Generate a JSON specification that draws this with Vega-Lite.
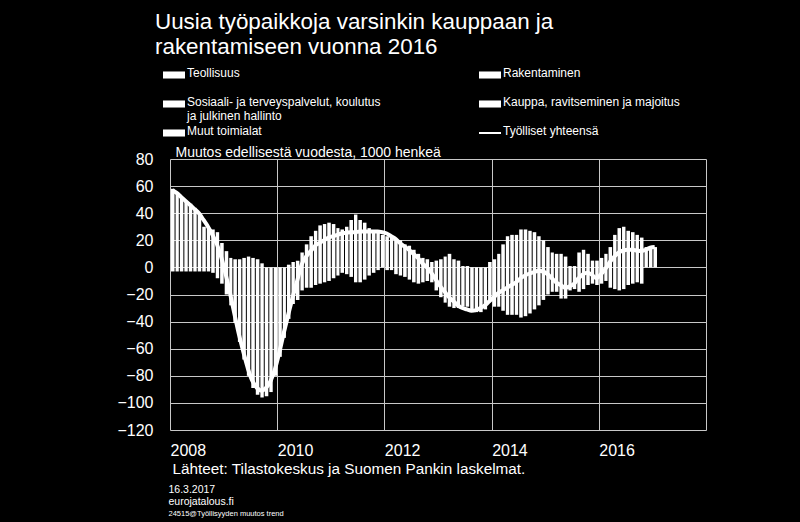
{
  "$schema": "https://vega.github.io/schema/vega-lite/v6.json",
  "width": 536,
  "height": 271,
  "autosize": {"type": "none"},
  "padding": {"left": 170, "top": 159, "right": 94, "bottom": 92},
  "background": "black",
  "config": {
    "view": {"stroke": null},
    "font": "Liberation Sans"
  },
  "title": {
    "text": ["Uusia työpaikkoja varsinkin kauppaan ja", "rakentamiseen vuonna 2016"],
    "anchor": "start",
    "frame": "group",
    "dx": -15,
    "fontSize": 22.4,
    "fontWeight": "normal",
    "font": "Liberation Sans",
    "color": "white",
    "lineHeight": 25,
    "offset": 6
  },
  "data": {
    "values": [
      {"d": "2008-01", "hi": 58, "lo": -3, "tot": 57},
      {"d": "2008-02", "hi": 55, "lo": -3, "tot": 55},
      {"d": "2008-03", "hi": 52, "lo": -3, "tot": 52},
      {"d": "2008-04", "hi": 49, "lo": -3, "tot": 49},
      {"d": "2008-05", "hi": 47, "lo": -3, "tot": 46},
      {"d": "2008-06", "hi": 44, "lo": -3, "tot": 43},
      {"d": "2008-07", "hi": 40, "lo": -3, "tot": 40},
      {"d": "2008-08", "hi": 30, "lo": -3, "tot": 35},
      {"d": "2008-09", "hi": 29, "lo": -3, "tot": 30},
      {"d": "2008-10", "hi": 28, "lo": -4, "tot": 24},
      {"d": "2008-11", "hi": 26, "lo": -8, "tot": 17},
      {"d": "2008-12", "hi": 18, "lo": -12, "tot": 7},
      {"d": "2009-01", "hi": 12, "lo": -20, "tot": -6},
      {"d": "2009-02", "hi": 7, "lo": -28, "tot": -20},
      {"d": "2009-03", "hi": 6, "lo": -41, "tot": -35},
      {"d": "2009-04", "hi": 6, "lo": -55, "tot": -50},
      {"d": "2009-05", "hi": 7, "lo": -68, "tot": -63},
      {"d": "2009-06", "hi": 8, "lo": -80, "tot": -75},
      {"d": "2009-07", "hi": 7, "lo": -89, "tot": -84},
      {"d": "2009-08", "hi": 6, "lo": -94, "tot": -89},
      {"d": "2009-09", "hi": 3, "lo": -96, "tot": -91},
      {"d": "2009-10", "hi": 0, "lo": -95, "tot": -89},
      {"d": "2009-11", "hi": 0, "lo": -92, "tot": -84},
      {"d": "2009-12", "hi": 0, "lo": -80, "tot": -75},
      {"d": "2010-01", "hi": 0, "lo": -66, "tot": -62},
      {"d": "2010-02", "hi": 0, "lo": -52, "tot": -48},
      {"d": "2010-03", "hi": 2, "lo": -38, "tot": -35},
      {"d": "2010-04", "hi": 4, "lo": -27, "tot": -22},
      {"d": "2010-05", "hi": 5, "lo": -24, "tot": -10},
      {"d": "2010-06", "hi": 11, "lo": -17, "tot": 2},
      {"d": "2010-07", "hi": 17, "lo": -15, "tot": 8},
      {"d": "2010-08", "hi": 23, "lo": -15, "tot": 12},
      {"d": "2010-09", "hi": 27, "lo": -13, "tot": 16},
      {"d": "2010-10", "hi": 31, "lo": -12, "tot": 18},
      {"d": "2010-11", "hi": 32, "lo": -11, "tot": 20},
      {"d": "2010-12", "hi": 33, "lo": -10, "tot": 22},
      {"d": "2011-01", "hi": 32, "lo": -8, "tot": 23},
      {"d": "2011-02", "hi": 29, "lo": -6, "tot": 24},
      {"d": "2011-03", "hi": 28, "lo": -4, "tot": 25},
      {"d": "2011-04", "hi": 30, "lo": -5, "tot": 25.5},
      {"d": "2011-05", "hi": 35, "lo": -7, "tot": 26},
      {"d": "2011-06", "hi": 39, "lo": -11, "tot": 26},
      {"d": "2011-07", "hi": 35, "lo": -11, "tot": 26.5},
      {"d": "2011-08", "hi": 33, "lo": -9, "tot": 26.5},
      {"d": "2011-09", "hi": 29, "lo": -6, "tot": 26.5},
      {"d": "2011-10", "hi": 26, "lo": -4, "tot": 26.5},
      {"d": "2011-11", "hi": 26, "lo": -2, "tot": 26.5},
      {"d": "2011-12", "hi": 24, "lo": 0, "tot": 26},
      {"d": "2012-01", "hi": 23, "lo": -2, "tot": 25},
      {"d": "2012-02", "hi": 22, "lo": -2, "tot": 23},
      {"d": "2012-03", "hi": 21, "lo": -5, "tot": 21},
      {"d": "2012-04", "hi": 20, "lo": -6, "tot": 18},
      {"d": "2012-05", "hi": 17, "lo": -7, "tot": 15.5},
      {"d": "2012-06", "hi": 16, "lo": -9, "tot": 13},
      {"d": "2012-07", "hi": 13, "lo": -11, "tot": 10},
      {"d": "2012-08", "hi": 10, "lo": -12, "tot": 7},
      {"d": "2012-09", "hi": 7, "lo": -11, "tot": 3},
      {"d": "2012-10", "hi": 6, "lo": -10, "tot": 0},
      {"d": "2012-11", "hi": 4, "lo": -11, "tot": -4},
      {"d": "2012-12", "hi": 5, "lo": -17, "tot": -9},
      {"d": "2013-01", "hi": 6, "lo": -22, "tot": -14},
      {"d": "2013-02", "hi": 8, "lo": -26, "tot": -18},
      {"d": "2013-03", "hi": 10, "lo": -29, "tot": -22},
      {"d": "2013-04", "hi": 6, "lo": -30, "tot": -25},
      {"d": "2013-05", "hi": 5, "lo": -30, "tot": -28},
      {"d": "2013-06", "hi": 1, "lo": -29, "tot": -30},
      {"d": "2013-07", "hi": 1, "lo": -29, "tot": -31},
      {"d": "2013-08", "hi": 0, "lo": -31, "tot": -32},
      {"d": "2013-09", "hi": 0, "lo": -33, "tot": -31.5},
      {"d": "2013-10", "hi": 0, "lo": -33, "tot": -30},
      {"d": "2013-11", "hi": 0, "lo": -31, "tot": -28},
      {"d": "2013-12", "hi": 4, "lo": -24, "tot": -25},
      {"d": "2014-01", "hi": 6, "lo": -29, "tot": -22},
      {"d": "2014-02", "hi": 10, "lo": -29, "tot": -19},
      {"d": "2014-03", "hi": 17, "lo": -32, "tot": -17},
      {"d": "2014-04", "hi": 23, "lo": -35, "tot": -15},
      {"d": "2014-05", "hi": 24, "lo": -35, "tot": -13},
      {"d": "2014-06", "hi": 24, "lo": -35, "tot": -11},
      {"d": "2014-07", "hi": 28, "lo": -37, "tot": -8},
      {"d": "2014-08", "hi": 28, "lo": -36, "tot": -6},
      {"d": "2014-09", "hi": 27, "lo": -34, "tot": -4.5},
      {"d": "2014-10", "hi": 26, "lo": -31, "tot": -3.5},
      {"d": "2014-11", "hi": 23, "lo": -28, "tot": -2.5},
      {"d": "2014-12", "hi": 20, "lo": -24, "tot": -3},
      {"d": "2015-01", "hi": 15, "lo": -20, "tot": -5},
      {"d": "2015-02", "hi": 11, "lo": -18, "tot": -8},
      {"d": "2015-03", "hi": 10, "lo": -18, "tot": -11},
      {"d": "2015-04", "hi": 10, "lo": -23, "tot": -13},
      {"d": "2015-05", "hi": 8, "lo": -23, "tot": -15},
      {"d": "2015-06", "hi": 1, "lo": -17, "tot": -14},
      {"d": "2015-07", "hi": 1, "lo": -16, "tot": -12},
      {"d": "2015-08", "hi": 11, "lo": -18, "tot": -8},
      {"d": "2015-09", "hi": 13, "lo": -16, "tot": -5},
      {"d": "2015-10", "hi": 10, "lo": -13, "tot": -4},
      {"d": "2015-11", "hi": 5, "lo": -12, "tot": -5.5},
      {"d": "2015-12", "hi": 5, "lo": -13, "tot": -8},
      {"d": "2016-01", "hi": 7, "lo": -12, "tot": -5},
      {"d": "2016-02", "hi": 10, "lo": -10, "tot": -1},
      {"d": "2016-03", "hi": 15, "lo": -15, "tot": 4},
      {"d": "2016-04", "hi": 24, "lo": -16, "tot": 8},
      {"d": "2016-05", "hi": 29, "lo": -17, "tot": 11},
      {"d": "2016-06", "hi": 30, "lo": -16, "tot": 12.5},
      {"d": "2016-07", "hi": 27, "lo": -13, "tot": 13},
      {"d": "2016-08", "hi": 26, "lo": -12, "tot": 13},
      {"d": "2016-09", "hi": 24, "lo": -11, "tot": 12.5},
      {"d": "2016-10", "hi": 22, "lo": -12, "tot": 12},
      {"d": "2016-11", "hi": 15, "lo": 0, "tot": 13},
      {"d": "2016-12", "hi": 15, "lo": 0, "tot": 14.5},
      {"d": "2017-01", "hi": 15, "lo": 0, "tot": 15}
    ]
  },
  "resolve": {"axis": {"x": "independent", "y": "independent"}},
  "layer": [
    {
      "mark": {"type": "bar", "color": "white", "timeUnitBandSize": 0.7},
      "encoding": {
        "x": {
          "field": "d", "timeUnit": "yearmonth", "type": "temporal",
          "scale": {"domain": [{"year": 2008, "month": 1, "date": 1}, {"year": 2018, "month": 1, "date": 1}]},
          "axis": {
            "orient": "bottom",
            "values": [{"year": 2008}, {"year": 2010}, {"year": 2012}, {"year": 2014}, {"year": 2016}, {"year": 2018}],
            "labelExpr": "year(datum.value) >= 2018 ? '' : timeFormat(datum.value, '%Y')",
            "labelAlign": "left", "labelFontSize": 16, "labelColor": "white", "labelPadding": 12,
            "labelFont": "Liberation Sans", "labelFlush": false, "labelOverlap": false,
            "ticks": false, "domain": false, "grid": true, "gridColor": "#c8c8c8", "gridWidth": 1,
            "title": "Lähteet: Tilastokeskus ja Suomen Pankin laskelmat.",
            "titleFontSize": 15.3, "titleFontWeight": "normal", "titleColor": "white", "titleFont": "Liberation Sans",
            "titleAnchor": "start", "titleAlign": "left", "titleBaseline": "alphabetic", "titleX": 2, "titleY": 43
          }
        },
        "y": {
          "field": "lo", "type": "quantitative",
          "scale": {"domain": [-120, 80], "nice": false},
          "axis": {
            "orient": "left",
            "values": [-120, -100, -80, -60, -40, -20, 0, 20, 40, 60, 80],
            "labelFontSize": 16, "labelColor": "white", "labelPadding": 17, "labelFont": "Liberation Sans",
            "ticks": false, "domain": false, "grid": true, "gridColor": "#c8c8c8", "gridWidth": 1,
            "title": "Muutos edellisestä vuodesta, 1000 henkeä",
            "titleAngle": 0, "titleAlign": "left", "titleBaseline": "alphabetic", "titleX": 5, "titleY": -3,
            "titleFontSize": 14, "titleFontWeight": "normal", "titleColor": "white", "titleFont": "Liberation Sans"
          }
        },
        "y2": {"field": "hi"},
        "color": {
          "datum": "Teollisuus", "type": "nominal",
          "scale": {
            "domain": ["Teollisuus", "Rakentaminen", "Sosiaali- ja terveyspalvelut, koulutus ja julkinen hallinto", "Kauppa, ravitseminen ja majoitus", "Muut toimialat", "Työlliset yhteensä"],
            "range": ["white", "white", "white", "white", "white", "white"]
          },
          "legend": {
            "orient": "none", "legendX": -7, "legendY": -95,
            "direction": "horizontal",
            "columns": 2, "columnPadding": 98, "rowPadding": 0,
            "title": null,
            "symbolType": "M-1,-0.32H1V0.32H-1Z", "symbolSize": 484,
            "symbolFillColor": "white", "symbolStrokeWidth": 0,
            "labelColor": "white", "labelFontSize": 12, "labelFont": "Liberation Sans", "labelOffset": 2, "labelLimit": 0,
            "labelExpr": "datum.label == 'Sosiaali- ja terveyspalvelut, koulutus ja julkinen hallinto' ? ['Sosiaali- ja terveyspalvelut, koulutus', 'ja julkinen hallinto'] : [datum.label, '']",
            "encode": {
              "symbols": {"update": {
                "shape": {"signal": "datum.value === 'Työlliset yhteensä' ? 'M-1,-0.09H1V0.09H-1Z' : 'M-1,-0.32H1V0.32H-1Z'"},
                "fill": {"value": "white"}, "stroke": {"value": "white"}, "strokeWidth": {"value": 0}, "opacity": {"value": 1}
              }},
              "labels": {"update": {"baseline": {"value": "top"}, "dy": {"value": -7}, "lineHeight": {"value": 14}}}
            }
          }
        }
      }
    },
    {
      "mark": {"type": "line", "strokeWidth": 4, "interpolate": "monotone"},
      "encoding": {
        "x": {
          "field": "d", "timeUnit": "yearmonth", "type": "temporal", "bandPosition": 0.5,
          "axis": {
            "orient": "bottom",
            "labels": false, "ticks": false, "domain": false, "grid": false,
            "title": ["16.3.2017", "eurojatalous.fi"],
            "titleFontSize": 10.5, "titleFontWeight": "normal", "titleColor": "white", "titleFont": "Liberation Sans",
            "titleAnchor": "start", "titleAlign": "left", "titleBaseline": "alphabetic", "titleX": -2, "titleY": 62, "titleLineHeight": 12.5
          }
        },
        "y": {
          "field": "tot", "type": "quantitative",
          "axis": {
            "orient": "left",
            "labels": false, "ticks": false, "domain": false, "grid": false,
            "title": "24515@Työllisyyden muutos trend",
            "titleAngle": 0, "titleAlign": "left", "titleBaseline": "alphabetic", "titleX": -2, "titleY": 356,
            "titleFontSize": 7.5, "titleFontWeight": "normal", "titleColor": "white", "titleFont": "Liberation Sans"
          }
        },
        "color": {"datum": "Työlliset yhteensä", "type": "nominal"}
      }
    }
  ]
}
